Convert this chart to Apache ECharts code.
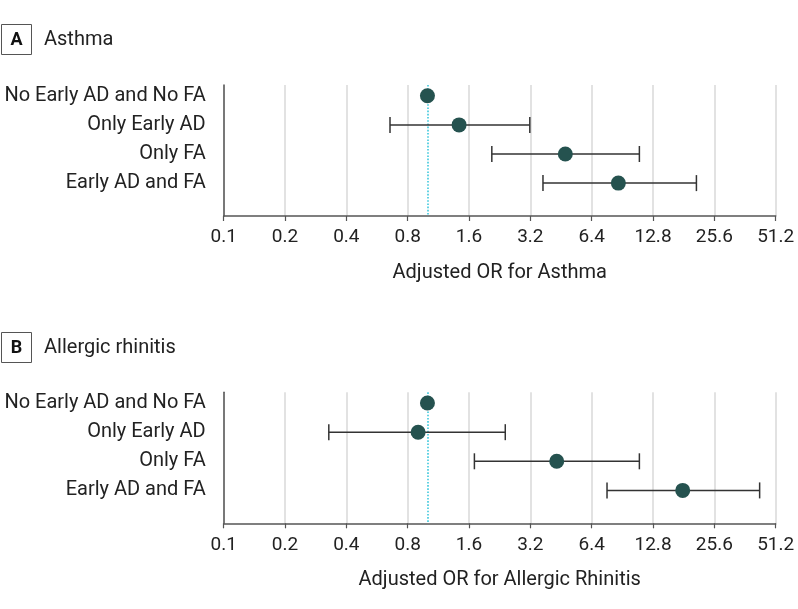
<!DOCTYPE html>
<html><head><meta charset="utf-8">
<script src="https://cdn.jsdelivr.net/npm/echarts@6/dist/echarts.min.js"></script>
<style>html,body{margin:0;padding:0;background:#fff}#c{width:798px;height:609px}</style>
</head><body><div id="c"></div>
<script>
// ---- data ----
const rows = ['No Early AD and No FA', 'Only Early AD', 'Only FA', 'Early AD and FA'];
const tickLabels = ['0.1', '0.2', '0.4', '0.8', '1.6', '3.2', '6.4', '12.8', '25.6', '51.2'];
const asthmaOR   = [1.0, 1.43, 4.75, 8.65];
const asthmaLow  = [null, 0.655, 2.07, 3.69];
const asthmaHigh = [null, 3.18, 10.97, 20.9];
const rhinitisOR   = [1.0, 0.90, 4.31, 17.9];
const rhinitisLow  = [null, 0.328, 1.70, 7.61];
const rhinitisHigh = [null, 2.41, 10.97, 42.7];
const referenceOR = 1;

// ---- helpers ----
const FONT = 'Roboto';
const lx = v => Math.log2(v / 0.1);   // position on log2 scale starting at 0.1

function ciData(low, high) {
  const out = [];
  low.forEach((l, i) => { if (l != null) out.push([lx(l), lx(high[i]), i + 1]); });
  return out;
}
function ptData(or) { return or.map((v, i) => [lx(v), i + 1]); }

function renderCI(params, api) {
  const a = api.coord([api.value(0), api.value(2)]);
  const b = api.coord([api.value(1), api.value(2)]);
  const h = 8;
  const style = { stroke: '#333', lineWidth: 1.5, fill: null };
  return { type: 'group', children: [
    { type: 'line', shape: { x1: a[0], y1: a[1], x2: b[0], y2: b[1] }, style },
    { type: 'line', shape: { x1: a[0], y1: a[1] - h, x2: a[0], y2: a[1] + h }, style },
    { type: 'line', shape: { x1: b[0], y1: b[1] - h, x2: b[0], y2: b[1] + h }, style }
  ]};
}

function xAxis(idx, name) {
  return {
    type: 'value', gridIndex: idx, min: 0, max: 9, interval: 1,
    name: name, nameLocation: 'middle', nameGap: 47,
    nameTextStyle: { fontFamily: FONT, fontSize: 20, color: '#222' },
    axisLine: { show: true, lineStyle: { color: '#555', width: 1.5 } },
    axisTick: { show: true, length: 5, lineStyle: { color: '#555', width: 1.2 } },
    axisLabel: { fontFamily: FONT, fontSize: 19, color: '#222', margin: 12,
      formatter: v => tickLabels[Math.round(v)] },
    splitLine: { show: true, lineStyle: { color: '#d9d9d9', width: 1.5 } }
  };
}
function yAxis(idx) {
  return {
    type: 'value', gridIndex: idx, inverse: true, min: 0.63, max: 5.13,
    axisLine: { show: true, lineStyle: { color: '#555', width: 1.5 } },
    axisTick: { show: false },
    splitLine: { show: false },
    axisLabel: { fontFamily: FONT, fontSize: 20, color: '#222', margin: 18,
      customValues: [1, 2, 3, 4], formatter: v => rows[Math.round(v) - 1] }
  };
}
function panelSeries(idx, or, low, high) {
  return [
    { type: 'scatter', xAxisIndex: idx, yAxisIndex: idx, data: [], z: 1, silent: true,
      markLine: { silent: true, symbol: 'none', z: 1, label: { show: false },
        lineStyle: { type: 'dotted', color: '#3ec8dc', width: 1.6 },
        data: [{ xAxis: lx(referenceOR) }] } },
    { type: 'custom', xAxisIndex: idx, yAxisIndex: idx, z: 2, silent: true,
      renderItem: renderCI, encode: { x: [0, 1], y: 2 }, data: ciData(low, high) },
    { type: 'scatter', xAxisIndex: idx, yAxisIndex: idx, z: 3, silent: true,
      symbolSize: 15, itemStyle: { color: '#25524f', opacity: 1 }, data: ptData(or) }
  ];
}

function panelTitle(letter, text, top) {
  return [
    { type: 'rect', shape: { x: 1.5, y: top + 0.5, width: 30, height: 30 },
      style: { fill: '#fff', stroke: '#555', lineWidth: 1 } },
    { type: 'text', x: 16.5, y: top + 16, style: { text: letter, fontFamily: FONT,
      fontWeight: 'bold', fontSize: 18, fill: '#111', align: 'center', verticalAlign: 'middle' } },
    { type: 'text', x: 44, y: top + 16, style: { text: text, fontFamily: FONT,
      fontSize: 20, fill: '#222', align: 'left', verticalAlign: 'middle' } }
  ];
}

const chart = echarts.init(document.getElementById('c'), null, { renderer: 'canvas' });
chart.setOption({
  backgroundColor: '#fff',
  animation: false,
  textStyle: { fontFamily: FONT },
  grid: [
    { left: 223.7, width: 552, top: 85, height: 131 },
    { left: 223.7, width: 552, top: 392.3, height: 131 }
  ],
  xAxis: [xAxis(0, 'Adjusted OR for Asthma'), xAxis(1, 'Adjusted OR for Allergic Rhinitis')],
  yAxis: [yAxis(0), yAxis(1)],
  graphic: [...panelTitle('A', 'Asthma', 24), ...panelTitle('B', 'Allergic rhinitis', 332)],
  series: [
    ...panelSeries(0, asthmaOR, asthmaLow, asthmaHigh),
    ...panelSeries(1, rhinitisOR, rhinitisLow, rhinitisHigh)
  ]
});
</script>
</body></html>
